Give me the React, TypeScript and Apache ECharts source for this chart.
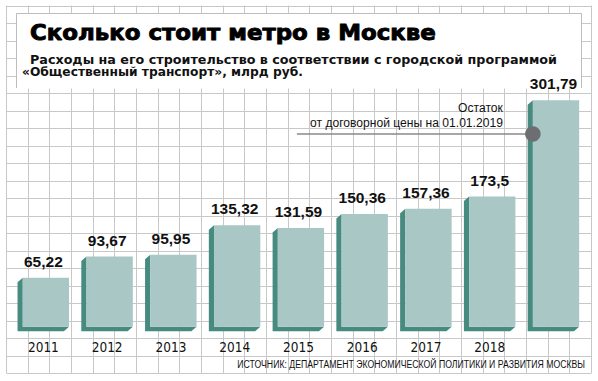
import React, { useEffect, useRef } from 'react';
import * as echarts from 'echarts';

// ---- data ----
const years = ['2011', '2012', '2013', '2014', '2015', '2016', '2017', '2018', '2019'];
const values = [65.22, 93.67, 95.95, 135.32, 131.59, 150.36, 157.36, 173.5, 301.79];
// level of the "remainder" marker on the last bar
const remainderValue = 257;

const titleText = 'Сколько стоит метро в Москве';
const subtitleLine1 = 'Расходы на его строительство в соответствии с городской программой';
const subtitleLine2 = '«Общественный транспорт», млрд руб.';
const noteLine1 = 'Остаток';
const noteLine2 = 'от договорной цены на 01.01.2019';
const sourceText = 'ИСТОЧНИК: ДЕПАРТАМЕНТ ЭКОНОМИЧЕСКОЙ ПОЛИТИКИ И РАЗВИТИЯ МОСКВЫ';

const FACE = '#a8c7c5';
const DARK = '#468a80';
const GRIDLINE = '#c8c8c8';

const TITLE_FAMILY = '"DejaVu Sans", "Liberation Sans", sans-serif';
const SUB_FAMILY = '"DejaVu Sans", "Liberation Sans", sans-serif';
const NOTE_FAMILY = '"Liberation Sans", Arial, sans-serif';
const LABEL_FAMILY = '"Liberation Sans Narrow", "DejaVu Sans Condensed", "Liberation Sans", Arial, sans-serif';

function measure(text: string, font: string): number {
  const c = document.createElement('canvas').getContext('2d');
  if (!c) return 0;
  c.font = font;
  return c.measureText(text).width;
}
function fit(text: string, weight: string, size: number, family: string, target: number): number {
  const w = measure(text, `${weight} ${size}px ${family}`);
  return w > 0 ? target / w : 1;
}

const fmt = (v: number) => String(v).replace('.', ',');

export default function App() {
  const ref = useRef<HTMLDivElement>(null);

  useEffect(() => {
    if (!ref.current) return;
    const chart = echarts.init(ref.current, null, { renderer: 'svg' });

    const titleScale = fit(titleText, 'bold', 21, TITLE_FAMILY, 406);
    const sub1Scale = fit(subtitleLine1, 'bold', 12.8, SUB_FAMILY, 527);
    const sub2Scale = fit(subtitleLine2, 'bold', 12.8, SUB_FAMILY, 281);
    const note1Scale = fit(noteLine2, 'normal', 12.5, NOTE_FAMILY, 193);
    const srcScale = fit(sourceText, 'normal', 11.5, NOTE_FAMILY, 348);

    // graph-paper background
    const paper: any[] = [];
    const X0 = 6, X1 = 591, Y0 = 5.5, Y1 = 373;
    const nx = 27, ny = 21;
    for (let k = 0; k <= nx; k++) {
      const x = Math.round(X0 + ((X1 - X0) * k) / nx) + 0.5;
      paper.push({ type: 'line', shape: { x1: x, y1: Y0, x2: x, y2: Y1 }, style: { stroke: GRIDLINE, lineWidth: 1 }, silent: true });
    }
    for (let k = 0; k <= ny; k++) {
      const y = Math.round(Y0 + ((Y1 - Y0) * k) / ny) + 0.5;
      paper.push({ type: 'line', shape: { x1: X0 + 0.5, y1: y, x2: X1 + 0.5, y2: y }, style: { stroke: GRIDLINE, lineWidth: 1 }, silent: true });
    }

    const lastIdx = values.length - 1;

    const option: any = {
      animation: false,
      backgroundColor: '#ffffff',
      grid: { left: 11.5, right: 12.6, top: 86.7, bottom: 54.3 },
      xAxis: {
        type: 'category',
        data: years,
        axisLine: { show: false },
        axisTick: { show: false },
        splitLine: { show: false },
        axisLabel: {
          interval: (i: number) => i < lastIdx,
          color: '#111',
          fontSize: 13.5,
          fontFamily: LABEL_FAMILY,
          margin: 13,
        },
      },
      yAxis: { type: 'value', min: 0, max: 320, show: false },
      graphic: [
        ...paper,
        { type: 'rect', shape: { x: 16.5, y: 13.5, width: 565, height: 75 }, style: { fill: '#ffffff' }, silent: true },
        { type: 'polyline', shape: { points: [[16.5, 88], [16.5, 13.5], [581.5, 13.5], [581.5, 88]] }, style: { stroke: '#bdbdbd', lineWidth: 1, fill: null }, silent: true },
        {
          type: 'text', x: 30, y: 32.6, scaleX: titleScale,
          style: { text: titleText, fontSize: 21, fontWeight: 'bold', fontFamily: TITLE_FAMILY, fill: '#000', stroke: '#000', lineWidth: 0.9, align: 'left', verticalAlign: 'middle' },
        },
        {
          type: 'text', x: 30, y: 59.6, scaleX: sub1Scale,
          style: { text: subtitleLine1, fontSize: 12.8, fontWeight: 'bold', fontFamily: SUB_FAMILY, fill: '#111', align: 'left', verticalAlign: 'middle' },
        },
        {
          type: 'text', x: 22, y: 70.9, scaleX: sub2Scale,
          style: { text: subtitleLine2, fontSize: 12.8, fontWeight: 'bold', fontFamily: SUB_FAMILY, fill: '#111', align: 'left', verticalAlign: 'middle' },
        },
        {
          type: 'text', x: 585, y: 364, scaleX: srcScale,
          style: { text: sourceText, fontSize: 11.5, fontFamily: NOTE_FAMILY, fill: '#111', align: 'right', verticalAlign: 'middle' },
        },
      ],
      series: [
        {
          type: 'custom',
          data: values.map((v, i) => [i, v]),
          z: 5,
          renderItem: (params: any, api: any) => {
            const idx = params.dataIndex;
            const v = api.value(1);
            const [cx, top] = api.coord([idx, v]);
            const base = api.coord([idx, 0])[1];
            const band = api.size([1, 0])[0];
            const fw = band * 0.726;
            const dx = 5.2, dy = 4.5;
            const x0 = cx + 2.5 - fw / 2;
            const x1 = x0 + fw;
            const children: any[] = [
              {
                type: 'polygon',
                shape: { points: [[x0, top], [x0 - dx, top + dy], [x0 - dx, base + dy], [x1 - dx, base + dy], [x1, base], [x0, base]] },
                style: { fill: DARK },
              },
              { type: 'rect', shape: { x: x0, y: top, width: fw, height: base - top }, style: { fill: FACE } },
              {
                type: 'text', x: cx, y: top - 16.4,
                style: { text: fmt(v), fontSize: 15.5, fontWeight: 'bold', fontFamily: NOTE_FAMILY, fill: '#111', align: 'center', verticalAlign: 'middle' },
              },
            ];
            if (idx === lastIdx) {
              const ry = api.coord([idx, remainderValue])[1];
              children.push(
                { type: 'line', shape: { x1: x0 - 236, y1: ry, x2: x0, y2: ry }, style: { stroke: '#8a8a8a', lineWidth: 1.4 } },
                { type: 'circle', shape: { cx: x0, cy: ry, r: 7.8 }, style: { fill: '#6d6e71' } },
                {
                  type: 'text', x: x0 - 30, y: ry - 26.3,
                  style: { text: noteLine1, fontSize: 12.5, fontFamily: NOTE_FAMILY, fill: '#111', align: 'right', verticalAlign: 'middle' },
                  scaleX: note1Scale,
                },
                {
                  type: 'text', x: x0 - 30, y: ry - 11.4,
                  style: { text: noteLine2, fontSize: 12.5, fontFamily: NOTE_FAMILY, fill: '#111', align: 'right', verticalAlign: 'middle' },
                  scaleX: note1Scale,
                },
              );
            }
            return { type: 'group', children };
          },
        },
      ],
    };

    chart.setOption(option);
    return () => chart.dispose();
  }, []);

  return (
    <div
      ref={ref}
      style={{ position: 'fixed', left: 0, top: 0, width: 598, height: 381, background: '#fff' }}
    />
  );
}
